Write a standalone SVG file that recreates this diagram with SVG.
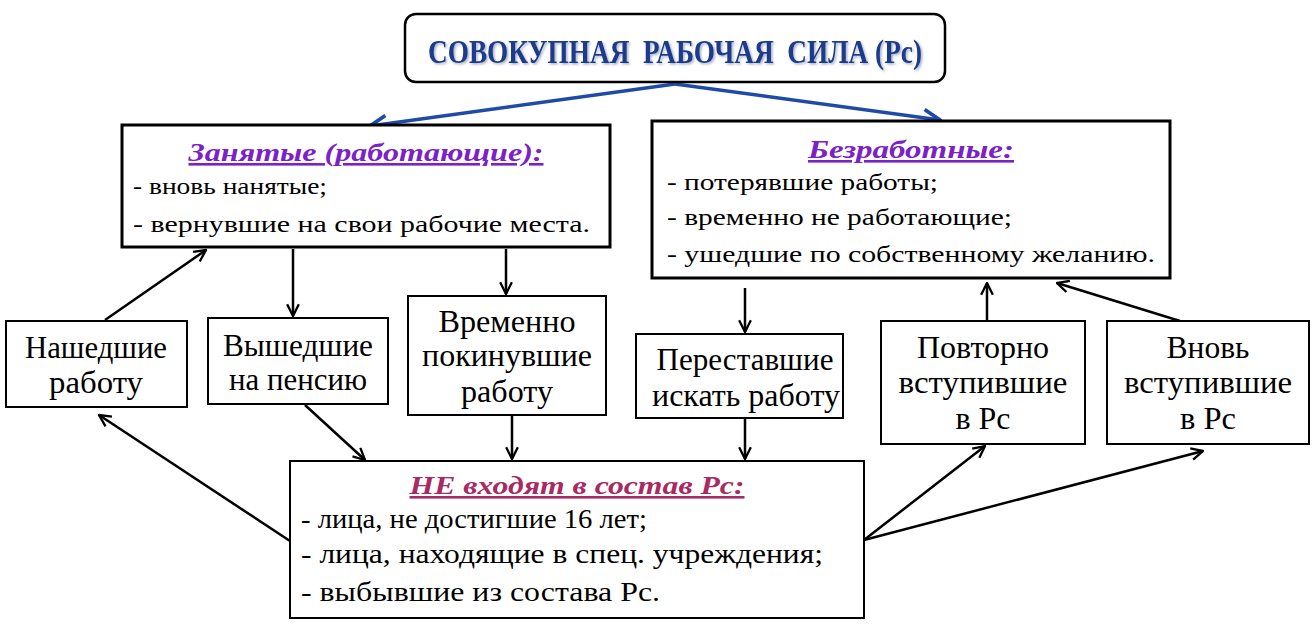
<svg xmlns="http://www.w3.org/2000/svg" width="1315" height="631" viewBox="0 0 1315 631" font-family="Liberation Serif, serif">
<style>
.box{fill:#fff;stroke:#000;stroke-width:2}
.bigbox{fill:#fff;stroke:#000;stroke-width:3}
.con{fill:none;stroke:#000;stroke-width:2.5}
.blue{fill:none;stroke:#1f4aa8;stroke-width:3.5}
</style>
<defs>
<marker id="ah" viewBox="0 0 12 12" refX="11" refY="6" markerWidth="14" markerHeight="14" markerUnits="userSpaceOnUse" orient="auto">
<path d="M1,1 L11,6 L1,11" fill="none" stroke="#000" stroke-width="2"/>
</marker>
<marker id="ahb" viewBox="0 0 12 12" refX="11" refY="6" markerWidth="20" markerHeight="20" markerUnits="userSpaceOnUse" orient="auto">
<path d="M1,1 L11,6 L1,11" fill="none" stroke="#1f4aa8" stroke-width="2.2"/>
</marker>
<filter id="sh" x="-5%" y="-20%" width="110%" height="140%">
<feDropShadow dx="1.5" dy="1.5" stdDeviation="1" flood-color="#7f8fb0" flood-opacity="0.7"/>
</filter>
</defs>
<rect width="1315" height="631" fill="#fff"/>

<g id="connectors">
<line class="blue" x1="675" y1="84" x2="370" y2="126" marker-end="url(#ahb)"/>
<line class="blue" x1="675" y1="84" x2="940" y2="120" marker-end="url(#ahb)"/>
<line class="con" x1="105" y1="320" x2="206" y2="250" marker-end="url(#ah)"/>
<line class="con" x1="293" y1="249" x2="293" y2="316" marker-end="url(#ah)"/>
<line class="con" x1="506" y1="249" x2="506" y2="294" marker-end="url(#ah)"/>
<line class="con" x1="745" y1="288" x2="745" y2="332" marker-end="url(#ah)"/>
<line class="con" x1="987" y1="321" x2="987" y2="283" marker-end="url(#ah)"/>
<line class="con" x1="1180" y1="321" x2="1057" y2="283" marker-end="url(#ah)"/>
<line class="con" x1="305" y1="405" x2="365" y2="460" marker-end="url(#ah)"/>
<line class="con" x1="512" y1="416" x2="512" y2="459" marker-end="url(#ah)"/>
<line class="con" x1="745" y1="419" x2="745" y2="459" marker-end="url(#ah)"/>
<line class="con" x1="290" y1="541" x2="99" y2="415" marker-end="url(#ah)"/>
<line class="con" x1="864" y1="540" x2="985" y2="446" marker-end="url(#ah)"/>
<line class="con" x1="864" y1="540" x2="1203" y2="451" marker-end="url(#ah)"/>
</g>

<g id="total">
<rect x="405" y="14" width="540" height="68" rx="11" fill="#fff" stroke="#000" stroke-width="2.5"/>
<text x="675" y="63" text-anchor="middle" textLength="494" lengthAdjust="spacingAndGlyphs" font-size="33" font-weight="bold" fill="#1c3a8c" filter="url(#sh)" xml:space="preserve">СОВОКУПНАЯ  РАБОЧАЯ  СИЛА (Рс)</text>
</g>

<g id="employed">
<rect class="bigbox" x="122" y="125" width="488" height="122"/>
<text x="366" y="161" text-anchor="middle" textLength="355" lengthAdjust="spacingAndGlyphs" font-size="26" font-style="italic" font-weight="bold" text-decoration="underline" fill="#7a22c8">Занятые (работающие):</text>
<g font-size="24" fill="#000">
<text x="133" y="194" textLength="194" lengthAdjust="spacingAndGlyphs">- вновь нанятые;</text>
<text x="133" y="232" textLength="457" lengthAdjust="spacingAndGlyphs">- вернувшие на свои рабочие места.</text>
</g>
</g>

<g id="unemployed">
<rect class="bigbox" x="652" y="121" width="518" height="157"/>
<text x="911" y="158" text-anchor="middle" textLength="206" lengthAdjust="spacingAndGlyphs" font-size="26" font-style="italic" font-weight="bold" text-decoration="underline" fill="#7a22c8">Безработные:</text>
<g font-size="24" fill="#000">
<text x="667" y="190" textLength="271" lengthAdjust="spacingAndGlyphs">- потерявшие работы;</text>
<text x="667" y="225" textLength="345" lengthAdjust="spacingAndGlyphs">- временно не работающие;</text>
<text x="667" y="262" textLength="488" lengthAdjust="spacingAndGlyphs">- ушедшие по собственному желанию.</text>
</g>
</g>

<g id="found" font-size="31" text-anchor="middle">
<rect class="box" x="6" y="321" width="181" height="86"/>
<text x="96" y="358" textLength="142" lengthAdjust="spacingAndGlyphs">Нашедшие</text>
<text x="96" y="393" textLength="94" lengthAdjust="spacingAndGlyphs">работу</text>
</g>

<g id="retired" font-size="31" text-anchor="middle">
<rect class="box" x="208" y="318" width="180" height="86"/>
<text x="298" y="356" textLength="150" lengthAdjust="spacingAndGlyphs">Вышедшие</text>
<text x="298" y="390" textLength="138" lengthAdjust="spacingAndGlyphs">на пенсию</text>
</g>

<g id="temp-left" font-size="31" text-anchor="middle">
<rect class="box" x="408" y="296" width="198" height="119"/>
<text x="507" y="332" textLength="137" lengthAdjust="spacingAndGlyphs">Временно</text>
<text x="507" y="366" textLength="170" lengthAdjust="spacingAndGlyphs">покинувшие</text>
<text x="507" y="402" textLength="92" lengthAdjust="spacingAndGlyphs">работу</text>
</g>

<g id="stopped" font-size="31" text-anchor="middle">
<rect class="box" x="636" y="334" width="207" height="84"/>
<text x="745" y="370" textLength="177" lengthAdjust="spacingAndGlyphs">Переставшие</text>
<text x="746" y="406" textLength="188" lengthAdjust="spacingAndGlyphs">искать работу</text>
</g>

<g id="reentered" font-size="31" text-anchor="middle">
<rect class="box" x="881" y="321" width="204" height="123"/>
<text x="983" y="358" textLength="132" lengthAdjust="spacingAndGlyphs">Повторно</text>
<text x="983" y="393" textLength="169" lengthAdjust="spacingAndGlyphs">вступившие</text>
<text x="983" y="429" textLength="55" lengthAdjust="spacingAndGlyphs">в Рс</text>
</g>

<g id="new-entered" font-size="31" text-anchor="middle">
<rect class="box" x="1107" y="321" width="202" height="123"/>
<text x="1208" y="358" textLength="83" lengthAdjust="spacingAndGlyphs">Вновь</text>
<text x="1208" y="393" textLength="168" lengthAdjust="spacingAndGlyphs">вступившие</text>
<text x="1208" y="429" textLength="56" lengthAdjust="spacingAndGlyphs">в Рс</text>
</g>

<g id="not-included">
<rect class="box" x="290" y="461" width="574" height="157"/>
<text x="577" y="494" text-anchor="middle" textLength="335" lengthAdjust="spacingAndGlyphs" font-size="26" font-style="italic" font-weight="bold" text-decoration="underline" fill="#a82a62">НЕ входят в состав Рс:</text>
<g font-size="27" fill="#000">
<text x="301" y="528" textLength="346" lengthAdjust="spacingAndGlyphs">- лица, не достигшие 16 лет;</text>
<text x="301" y="563" textLength="522" lengthAdjust="spacingAndGlyphs">- лица, находящие в спец. учреждения;</text>
<text x="301" y="601" textLength="359" lengthAdjust="spacingAndGlyphs">- выбывшие из состава Рс.</text>
</g>
</g>
</svg>
